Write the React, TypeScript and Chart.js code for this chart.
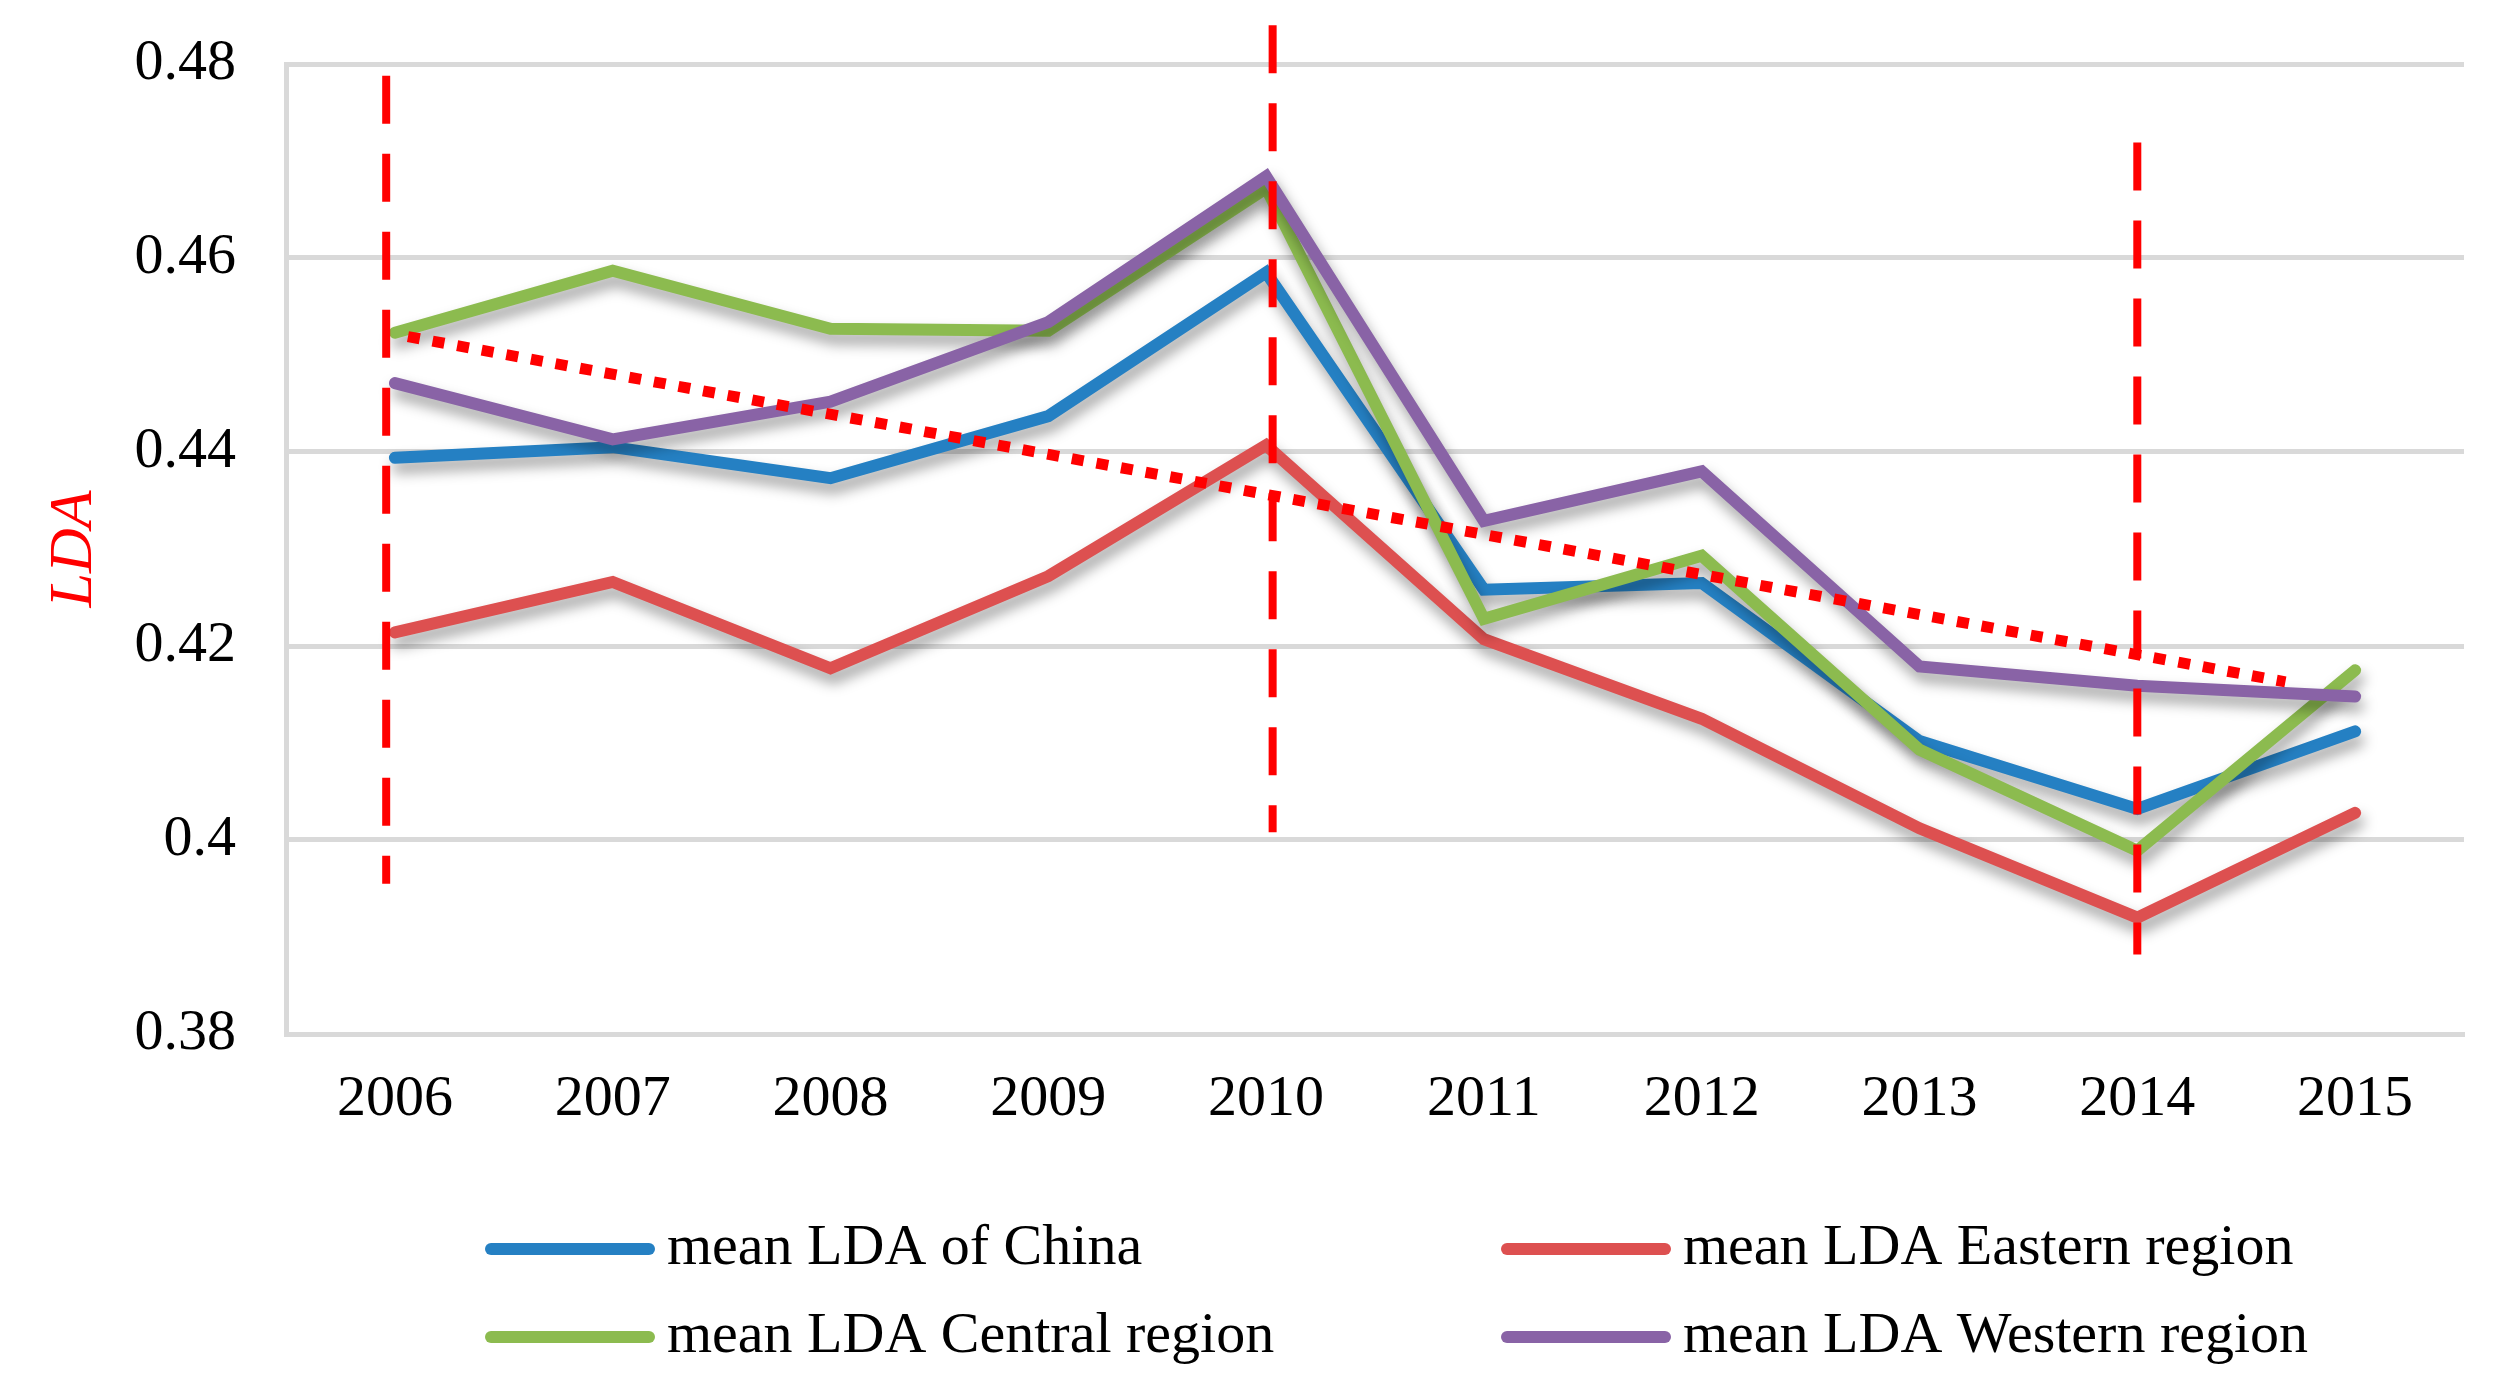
import React, { useEffect, useRef } from 'react';
import { Chart, registerables } from 'chart.js';

Chart.register(...registerables);

// ---------- data ----------
const years = ['2006', '2007', '2008', '2009', '2010', '2011', '2012', '2013', '2014', '2015'];
const yTicks = [0.38, 0.4, 0.42, 0.44, 0.46, 0.48];

const chinaLDA = [0.4394, 0.4405, 0.4373, 0.4437, 0.4585, 0.4258, 0.4265, 0.4102, 0.4032, 0.4112];
const easternLDA = [0.4214, 0.4266, 0.4177, 0.4272, 0.4407, 0.4207, 0.4125, 0.4012, 0.392, 0.4028];
const centralLDA = [0.4523, 0.4587, 0.4527, 0.4525, 0.4672, 0.4228, 0.4293, 0.4093, 0.3989, 0.4175];
const westernLDA = [0.4471, 0.4413, 0.4452, 0.4534, 0.4684, 0.4329, 0.438, 0.4179, 0.4159, 0.4148];

const seriesNames = [
  'mean LDA of China',
  'mean LDA Eastern region',
  'mean LDA Central region',
  'mean LDA Western region',
];
const seriesColors = ['#2580C3', '#DD5050', '#8CBB4F', '#8963A6'];

// dotted trend line (category index, value)
const trendX = [0.06, 8.68];
const trendY = [0.4519, 0.4163];

// vertical dashed marker lines (category index, top value, bottom value)
const markerX = [-0.04, 4.03, 8.0];
const markerTop = [0.4788, 0.484, 0.4719];
const markerBottom = [0.3955, 0.4008, 0.3882];

const FONT = "'Liberation Serif', 'Times New Roman', serif";

const shadowPlugin = {
  id: 'lineShadow',
  beforeDatasetDraw(chart: any, args: any) {
    const ds = chart.data.datasets[args.index];
    if (!ds.shadow) return;
    const ctx = chart.ctx;
    ctx.save();
    ctx.shadowColor = 'rgba(0,0,0,0.38)';
    ctx.shadowBlur = 14;
    ctx.shadowOffsetX = 3;
    ctx.shadowOffsetY = 9;
  },
  afterDatasetDraw(chart: any, args: any) {
    const ds = chart.data.datasets[args.index];
    if (!ds.shadow) return;
    chart.ctx.restore();
  },
};

const legendPlugin = {
  id: 'gridLegend',
  afterDraw(chart: any) {
    const ctx = chart.ctx;
    const colX = [485, 1501];
    const rowY = [1249, 1337];
    const lineLen = 170;
    ctx.save();
    ctx.font = `58px ${FONT}`;
    ctx.textBaseline = 'middle';
    ctx.textAlign = 'left';
    seriesNames.forEach((name, i) => {
      const col = i % 2;
      const row = Math.floor(i / 2);
      const x = colX[col];
      const y = rowY[row];
      ctx.strokeStyle = seriesColors[i];
      ctx.lineWidth = 12;
      ctx.lineCap = 'round';
      ctx.beginPath();
      ctx.moveTo(x + 6, y);
      ctx.lineTo(x + lineLen - 6, y);
      ctx.stroke();
      ctx.fillStyle = '#000000';
      ctx.fillText(name, x + lineLen + 12, y);
    });
    ctx.restore();
  },
};

export default function App() {
  const canvasRef = useRef<HTMLCanvasElement | null>(null);

  useEffect(() => {
    document.body.style.margin = '0';
    const canvas = canvasRef.current;
    if (!canvas) return;

    const seriesValues = [chinaLDA, easternLDA, centralLDA, westernLDA];
    const seriesDatasets = seriesValues.map((vals, i) => ({
      label: seriesNames[i],
      data: vals.map((v, idx) => ({ x: idx, y: v })),
      borderColor: seriesColors[i],
      backgroundColor: seriesColors[i],
      borderWidth: 12,
      borderCapStyle: 'round',
      borderJoinStyle: 'miter',
      pointRadius: 0,
      tension: 0,
      fill: false,
      shadow: true,
      order: 4 - i,
    }));

    const markerDatasets = markerX.map((mx, i) => ({
      label: 'marker' + i,
      data: [
        { x: mx, y: markerTop[i] },
        { x: mx, y: markerBottom[i] },
      ],
      borderColor: '#FF0000',
      borderWidth: 8,
      borderDash: [48, 30],
      borderCapStyle: 'butt',
      pointRadius: 0,
      fill: false,
      clip: false,
      order: 0,
    }));

    const trendDataset = {
      label: 'trend',
      data: trendX.map((x, i) => ({ x, y: trendY[i] })),
      borderColor: '#FF0000',
      borderWidth: 11,
      borderDash: [12, 13],
      borderCapStyle: 'butt',
      pointRadius: 0,
      fill: false,
      clip: false,
      order: 0,
    };

    const chart = new Chart(canvas, {
      type: 'line',
      data: {
        datasets: [...markerDatasets, trendDataset, ...seriesDatasets] as any,
      },
      options: {
        animation: false,
        responsive: true,
        maintainAspectRatio: false,
        devicePixelRatio: 1,
        layout: { padding: { top: 64, right: 40, left: 0, bottom: 0 } },
        plugins: {
          legend: { display: false },
          tooltip: { enabled: false },
          title: { display: false },
        },
        scales: {
          x: {
            type: 'linear',
            min: -0.5,
            max: 9.5,
            afterBuildTicks: (scale: any) => {
              scale.ticks = years.map((_, i) => ({ value: i }));
            },
            afterFit: (scale: any) => {
              scale.height = 366;
              scale.paddingLeft = 0;
              scale.paddingRight = 0;
            },
            grid: { display: false, drawTicks: false },
            border: { display: true, color: '#D9D9D9', width: 5 },
            ticks: {
              padding: 31,
              color: '#000000',
              font: { family: FONT, size: 58 },
              maxRotation: 0,
              autoSkip: false,
              callback: (v: any) => years[Math.round(Number(v))] ?? '',
            },
          },
          y: {
            type: 'linear',
            min: 0.38,
            max: 0.48,
            afterBuildTicks: (scale: any) => {
              scale.ticks = yTicks.map((v) => ({ value: v }));
            },
            afterFit: (scale: any) => {
              scale.width = 286;
              scale.paddingTop = 0;
              scale.paddingBottom = 0;
            },
            grid: { color: '#D9D9D9', lineWidth: 5, drawTicks: false },
            border: { display: true, color: '#D9D9D9', width: 5 },
            ticks: {
              padding: 50,
              color: '#000000',
              font: { family: FONT, size: 58 },
              callback: (v: any) => String(Number(Number(v).toFixed(2))),
            },
            title: {
              display: true,
              text: 'LDA',
              color: '#FF0000',
              font: { family: FONT, size: 62, style: 'italic' },
              padding: { top: 38, bottom: 0 },
            },
          },
        },
      },
      plugins: [shadowPlugin, legendPlugin],
    } as any);

    return () => {
      chart.destroy();
    };
  }, []);

  return (
    <div style={{ width: '2504px', height: '1400px', position: 'relative', background: '#ffffff' }}>
      <canvas ref={canvasRef} />
    </div>
  );
}
